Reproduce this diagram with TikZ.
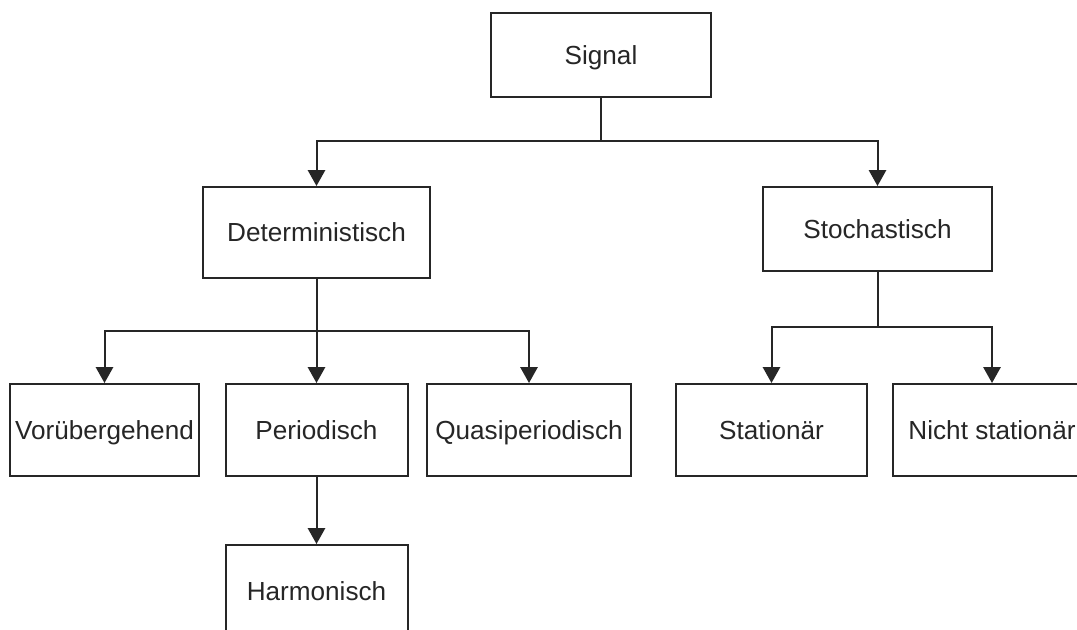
\documentclass[tikz,border=0pt]{standalone}
\usepackage{fontspec}
\setmainfont{Liberation Sans}
\usetikzlibrary{arrows.meta}
\begin{document}
\begin{tikzpicture}[x=0.75pt,y=-0.75pt,
  box/.style={draw=black!85,line width=1.5pt,inner sep=0pt,minimum height=69pt,
    text height=14pt,text depth=0pt,
    font=\fontsize{19.6}{23}\selectfont,text=black!85},
  conn/.style={draw=black!85,line width=1.5pt},
  arr/.style={conn,-{Triangle[width=13pt,length=12pt]}}]
\useasboundingbox (0,0) rectangle (1077,629);
\clip (0,0) rectangle (1077,629);
\fill[white] (0,0) rectangle (1077,629);
\node[box,minimum width=165pt,minimum height=63pt] (sig) at (601,55) {Signal};
\node[box,minimum width=170.25pt,minimum height=68.25pt] (det) at (316.5,232.5) {Deterministisch};
\node[box,minimum width=171.75pt,minimum height=63pt] (sto) at (877.5,229) {Stochastisch};
\node[box,minimum width=141.75pt] (vor) at (104.5,430) {Vorübergehend};
\node[box,minimum width=136.5pt] (per) at (316.5,430) {Periodisch};
\node[box,minimum width=153pt] (qua) at (529,430) {Quasiperiodisch};
\node[box,minimum width=143.25pt] (sta) at (771.5,430) {Stationär};
\node[box,minimum width=148.5pt] (nic) at (992,430) {Nicht stationär};
\node[box,minimum width=136.5pt] (har) at (316.5,591) {Harmonisch};
\coordinate (j1) at (601,141);
\coordinate (j2) at (316.5,331);
\coordinate (j3) at (877.5,327);
\draw[conn] (sig.south) -- (j1);
\draw[arr] (j1) -| (det.north);
\draw[arr] (j1) -| (sto.north);
\draw[conn] (det.south) -- (j2);
\draw[arr] (j2) -| (vor.north);
\draw[arr] (j2) -- (per.north);
\draw[arr] (j2) -| (qua.north);
\draw[conn] (sto.south) -- (j3);
\draw[arr] (j3) -| (sta.north);
\draw[arr] (j3) -| (nic.north);
\draw[arr] (per.south) -- (har.north);
\end{tikzpicture}
\end{document}
